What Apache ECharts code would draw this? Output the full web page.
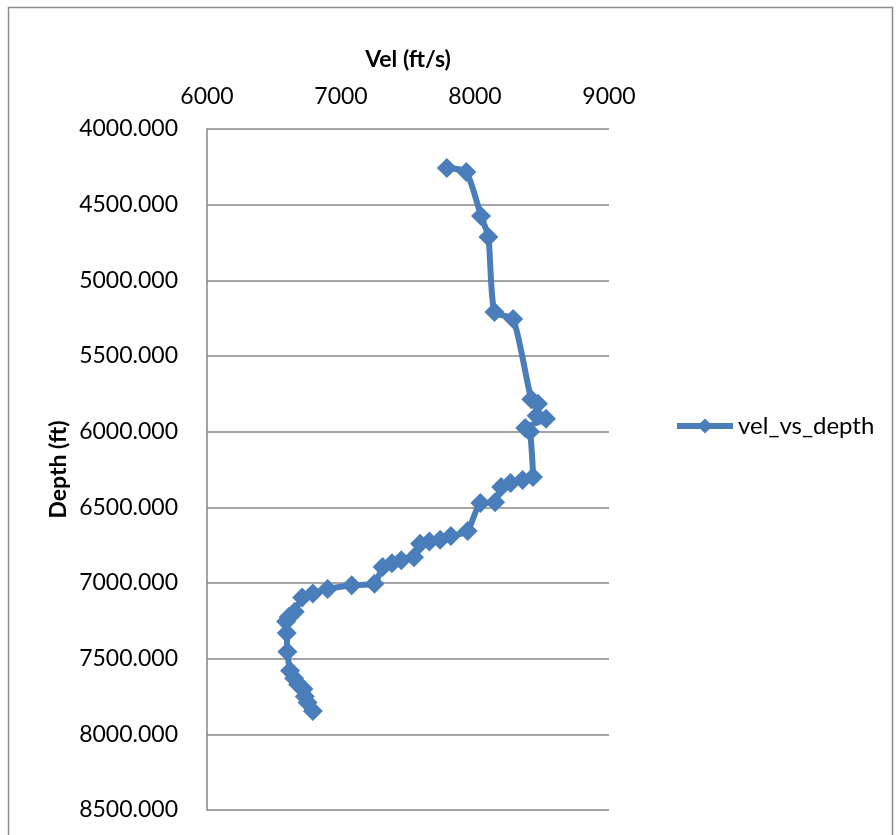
<!DOCTYPE html>
<html>
<head>
<meta charset="utf-8">
<script src="https://cdn.jsdelivr.net/npm/echarts@6/dist/echarts.min.js"></script>
<style>
html,body{margin:0;padding:0;background:#fff;}
#chart{width:896px;height:835px;}
</style>
</head>
<body>
<div id="chart"></div>
<script>
var seriesName = 'vel_vs_depth';
var velocity = [7790, 7935, 8045, 8100, 8145, 8285, 8420, 8470, 8460, 8530, 8375, 8410, 8433, 8355, 8265, 8195, 8150, 8040, 7945, 7820, 7740, 7660, 7590, 7545, 7450, 7380, 7310, 7250, 7080, 6900, 6790, 6710, 6655, 6610, 6590, 6595, 6600, 6620, 6650, 6680, 6720, 6730, 6750, 6790];
var depth    = [4258, 4284, 4575, 4714, 5210, 5256, 5785, 5815, 5895, 5915, 5975, 6000, 6300, 6320, 6340, 6365, 6466, 6472, 6656, 6690, 6715, 6725, 6740, 6830, 6850, 6870, 6895, 7005, 7015, 7040, 7070, 7095, 7190, 7225, 7255, 7330, 7455, 7580, 7630, 7670, 7700, 7750, 7790, 7845];
var xTitle = 'Vel (ft/s)';
var yTitle = 'Depth (ft)';

var pts = velocity.map(function(v, i){ return [v, depth[i]]; });
var font = 'Lato, "Open Sans", "Liberation Sans", sans-serif';
var blue = '#4a7ebb';
var chart = echarts.init(document.getElementById('chart'), null, {renderer:'canvas'});
chart.setOption({
  animation:false,
  backgroundColor:'#fff',
  graphic:[{type:'rect', shape:{x:8.5,y:7.5,width:884,height:840}, style:{fill:'none',stroke:'#8c8c8c',lineWidth:1.5}, silent:true, z:-1}],
  grid:{left:207, top:129, width:402, height:681},
  legend:{
    data:[seriesName], left:669, top:409, padding:5, itemWidth:56, itemHeight:19,
    lineStyle:{width:6, color:blue}, itemStyle:{color:blue},
    textStyle:{fontFamily:font, fontSize:24, color:'#000', padding:[0,0,0,0]}
  },
  xAxis:{
    type:'value', position:'top', min:6000, max:9000, interval:1000,
    name:xTitle, nameLocation:'middle', nameGap:58,
    nameTextStyle:{fontFamily:font, fontSize:23, fontWeight:'bold', color:'#000'},
    axisLine:{show:false}, axisTick:{show:false}, splitLine:{show:false},
    axisLabel:{fontFamily:font, fontSize:23, color:'#000', margin:21, formatter:function(v){return String(v);}}
  },
  yAxis:{
    type:'value', inverse:true, min:4000, max:8500, interval:500,
    name:yTitle, nameLocation:'middle', nameGap:137,
    nameTextStyle:{fontFamily:font, fontSize:23, fontWeight:'bold', color:'#000'},
    axisLine:{show:true, lineStyle:{color:'#868686', width:1.5}},
    axisTick:{show:false},
    splitLine:{show:true, lineStyle:{color:'#868686', width:1.5}},
    axisLabel:{fontFamily:font, fontSize:23, color:'#000', margin:29, formatter:function(v){return v.toFixed(3);}}
  },
  series:[{
    name:seriesName, type:'line', data:pts, smooth:0.2,
    symbol:'diamond', symbolSize:20, showSymbol:true,
    lineStyle:{color:blue, width:6},
    itemStyle:{color:blue, borderWidth:0}
  }]
});
</script>
</body>
</html>
